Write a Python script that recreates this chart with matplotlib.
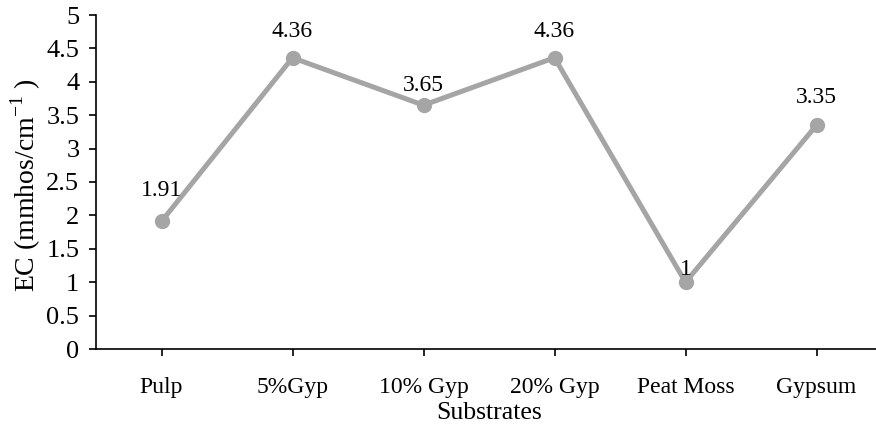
import matplotlib.pyplot as plt

plt.rcParams['font.family'] = ['Liberation Serif', 'DejaVu Serif']
plt.rcParams['mathtext.fontset'] = 'custom'
plt.rcParams['mathtext.rm'] = 'Liberation Serif'

substrates = ['Pulp', '5%Gyp', '10% Gyp', '20% Gyp', 'Peat Moss', 'Gypsum']
ec_values = [1.91, 4.36, 3.65, 4.36, 1.0, 3.35]
value_labels = ['1.91', '4.36', '3.65', '4.36', '1', '3.35']

# vertical gap (points) between each marker and its value label
label_offsets = [22, 19, 14, 19, 9, 20]

fig = plt.figure(figsize=(8.76, 4.30), dpi=100)
ax = fig.add_axes([96 / 876, 81 / 430, 786 / 876, 334 / 430])

x = list(range(len(substrates)))
ax.plot(x, ec_values, color='#a5a5a5', linewidth=3.6, marker='o',
        markersize=10, solid_capstyle='round', clip_on=False)

for xi, val, txt, off in zip(x, ec_values, value_labels, label_offsets):
    ax.annotate(txt, (xi, val), xytext=(0, off), textcoords='offset points',
                ha='center', va='center', fontsize=17)

ax.set_xlim(-0.5, len(substrates) - 0.5)
ax.set_ylim(0, 5)
ax.set_xticks(x)
ax.set_xticklabels(substrates)
ax.set_yticks([i * 0.5 for i in range(11)])
ax.set_yticklabels(['0', '0.5', '1', '1.5', '2', '2.5', '3', '3.5', '4', '4.5', '5'])

for side in ['top', 'right']:
    ax.spines[side].set_visible(False)
for side in ['left', 'bottom']:
    ax.spines[side].set_linewidth(1.2)

ax.tick_params(axis='both', direction='out', length=5, width=1.2)
ax.tick_params(axis='x', labelsize=17, pad=15)
ax.tick_params(axis='y', labelsize=19, pad=7)
ax.set_xlabel('Substrates', fontsize=18.5, labelpad=3)
ax.set_ylabel(r'EC (mmhos/cm$^{\mathregular{-1}}$ )', fontsize=20)
ax.yaxis.set_label_coords(-0.068, 0.49)

fig.savefig('out.png', dpi=100)
